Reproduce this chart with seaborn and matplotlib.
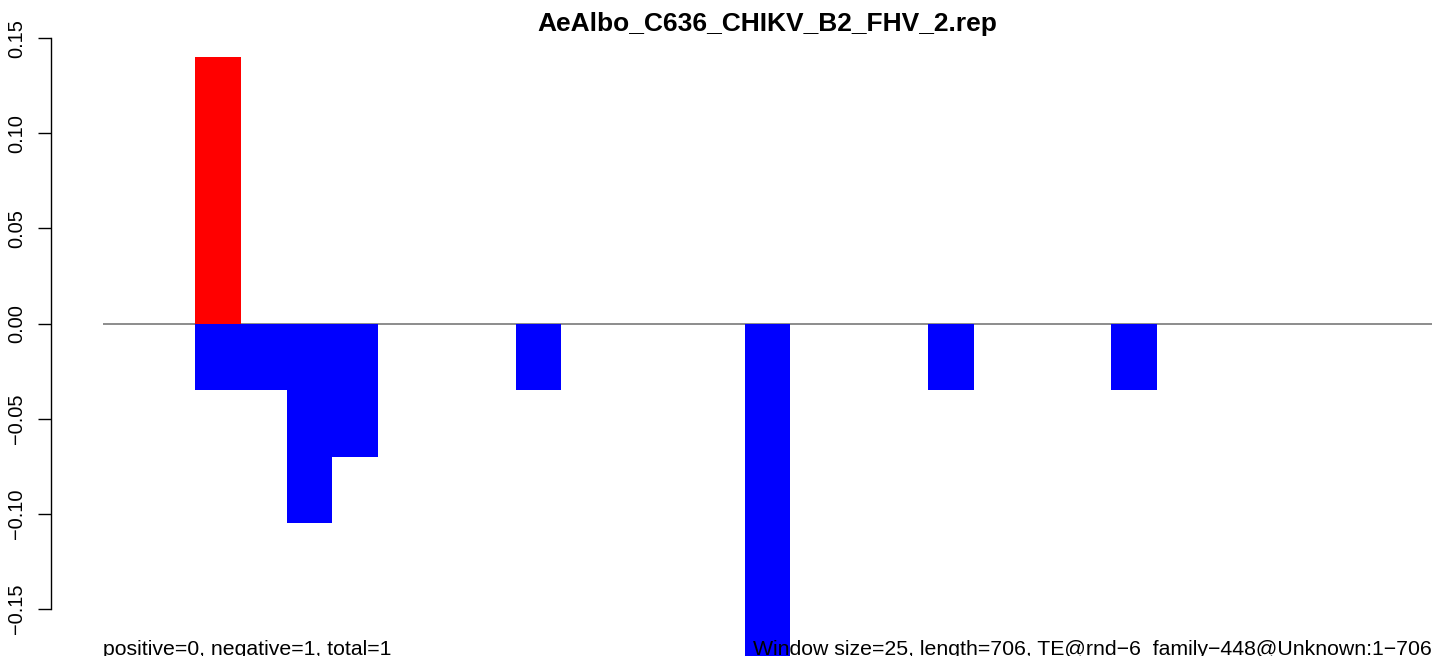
import pandas as pd
import matplotlib
matplotlib.use('Agg')
import matplotlib.pyplot as plt
import seaborn as sns

# window starts (nt) and normalised scores
WINDOW = 25
SEQ_LEN = 706
pos_starts = [50]
pos_values = [0.14]
neg_starts = [50, 75, 100, 125, 225, 350, 450, 550]
neg_values = [-0.035, -0.035, -0.105, -0.07, -0.035, -0.21, -0.035, -0.035]
yticks = [-0.15, -0.10, -0.05, 0.00, 0.05, 0.10, 0.15]

title = "AeAlbo_C636_CHIKV_B2_FHV_2.rep"
left_note = "positive=0, negative=1, total=1"
right_note = "Window size=25, length=706, TE@rnd\u22126_family\u2212448@Unknown:1\u2212706"

df = pd.DataFrame({
    "mid": [s + WINDOW / 2 for s in pos_starts + neg_starts],
    "value": pos_values + neg_values,
    "strand": ["pos"] * len(pos_starts) + ["neg"] * len(neg_starts),
})

sns.set_style("white")
plt.rcParams['font.family'] = ['Liberation Sans', 'DejaVu Sans']
plt.rcParams['text.color'] = 'black'
plt.rcParams['ytick.color'] = 'black'

W, H = 1444, 656
fig = plt.figure(figsize=(W / 100, H / 100), dpi=100)
x0, x1 = 103.4, 1431.6
ax = fig.add_axes([x0 / W, 0, (x1 - x0) / W, 1])

n_bins = 29
sns.histplot(data=df, x="mid", weights="value", hue="strand",
             hue_order=["pos", "neg"], palette={"pos": "#ff0000", "neg": "#0000ff"},
             binwidth=WINDOW, binrange=(0, n_bins * WINDOW), multiple="layer",
             alpha=1, linewidth=0, legend=False, ax=ax, zorder=2)
# no seams between neighbouring bars, hide empty bins
for p in ax.patches:
    if p.get_height() != 0:
        p.set_antialiased(False)
    else:
        p.set_visible(False)

ax.axhline(0, color="#6e6e6e", lw=1.1, zorder=1)

zero_px = 323.6
px_per_unit = 1903.3
ax.set_xlim(0, n_bins * WINDOW)
ax.set_ylim(-(H - zero_px) / px_per_unit, zero_px / px_per_unit)

for s in ["top", "right", "bottom"]:
    ax.spines[s].set_visible(False)
ax.spines["left"].set_position(("outward", (x0 - 50.7) * 0.72))
ax.spines["left"].set_bounds(-0.15, 0.15)
ax.spines["left"].set_linewidth(1.0)
ax.spines["left"].set_color("black")
ax.set_xticks([])
ax.set_yticks(yticks)
ax.set_yticklabels([f"{v:.2f}".replace("-", "\u2212") for v in yticks],
                   rotation=90, va="center")
ax.tick_params(axis="y", left=True, length=9.4, width=1.0, pad=8.5,
               labelsize=14.4, colors="black")
ax.set_xlabel("")
ax.set_ylabel("")
ax.patch.set_alpha(0)

fig.text(767.5 / W, 1 - 31 / H, title, ha="center", va="baseline",
         fontsize=19, fontweight="bold", color="black")
fig.text(x0 / W, 1 - 655 / H, left_note, ha="left", va="baseline",
         fontsize=15.3, color="black")
fig.text(1432 / W, 1 - 655 / H, right_note, ha="right", va="baseline",
         fontsize=15.3, color="black")

fig.savefig("out.png", dpi=100)
